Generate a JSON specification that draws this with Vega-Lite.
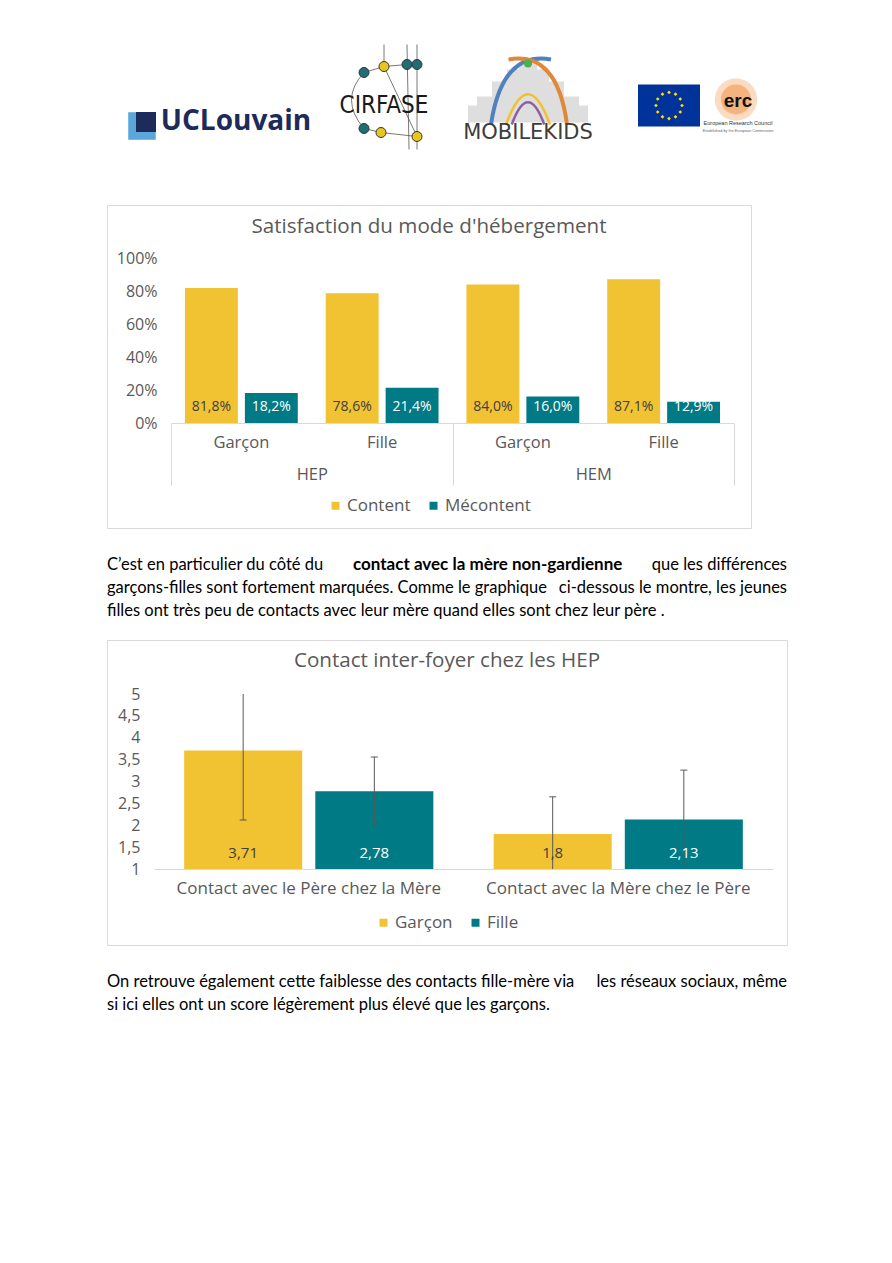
{
  "$schema": "https://vega.github.io/schema/vega-lite/v6.json",
  "background": "white",
  "padding": {"left": 106, "top": 40, "right": 0, "bottom": 0},
  "spacing": 0,
  "resolve": {"scale": {"color": "independent", "xOffset": "independent"}, "legend": {"color": "independent"}},
  "config": {
    "font": "Open Sans",
    "view": {"stroke": null},
    "locale": {"number": {"decimal": ",", "thousands": " ", "grouping": [3], "currency": ["", " €"]}},
    "legend": {"layout": {"bottom": {"anchor": "middle"}}},
    "axis": {"labelFont": "Open Sans", "labelColor": "#595959", "labelFontSize": 16, "grid": false}
  },
  "vconcat": [
    {
      "spacing": 0,
      "hconcat": [
        {
          "width": 224, "height": 164,
          "data": {"values": [{"logo": "UCLouvain"}]},
          "layer": [
            {"mark": {"type": "point", "shape": "square", "size": 760, "filled": true, "opacity": 1, "color": "#5aa7dc", "xOffset": -77, "yOffset": 4}, "encoding": {}},
            {"mark": {"type": "point", "shape": "square", "size": 400, "filled": true, "opacity": 1, "color": "#1c2b5a", "xOffset": -73, "yOffset": 0}, "encoding": {}},
            {"mark": {"type": "text", "text": "UCLouvain", "font": "Open Sans", "fontWeight": "bold", "fontSize": 28, "color": "#1c2b5a", "dx": 17, "dy": 0, "baseline": "middle"}, "encoding": {}}
          ]
        },
        {
          "width": 106, "height": 164,
          "data": {"values": [{"logo": "CIRFASE"}]},
          "layer": [
            {"mark": {"type": "point", "shape": "M-0.333,-0.45Q-0.75,0 -0.333,0.483M-0.333,-0.45L0,-0.55L0.383,-0.583M-0.333,0.483L-0.05,0.55L0.55,0.617M0.383,-0.917L0.417,0.833M0,-0.917L0,-0.55L0.55,0.617M0.55,-0.917L0.55,0.833", "size": 14400, "filled": false, "opacity": 1, "stroke": "#555555", "strokeWidth": 0.8, "yOffset": -22.5}, "encoding": {}},
            {"mark": {"type": "text", "text": "CIRFASE", "font": "'Liberation Sans Narrow', 'DejaVu Sans Condensed', 'Liberation Sans'", "fontSize": 24, "color": "#1a1a1a", "dy": -16, "baseline": "middle"}, "encoding": {}},
            {"mark": {"type": "point", "shape": "circle", "size": 100, "filled": true, "opacity": 1, "color": "#1f6e74", "stroke": "#333333", "strokeWidth": 1, "xOffset": -20, "yOffset": -49.5}, "encoding": {}},
            {"mark": {"type": "point", "shape": "circle", "size": 100, "filled": true, "opacity": 1, "color": "#e8c520", "stroke": "#333333", "strokeWidth": 1, "xOffset": 0, "yOffset": -55.5}, "encoding": {}},
            {"mark": {"type": "point", "shape": "circle", "size": 100, "filled": true, "opacity": 1, "color": "#1f6e74", "stroke": "#333333", "strokeWidth": 1, "xOffset": 23, "yOffset": -57.5}, "encoding": {}},
            {"mark": {"type": "point", "shape": "circle", "size": 100, "filled": true, "opacity": 1, "color": "#1f6e74", "stroke": "#333333", "strokeWidth": 1, "xOffset": 33, "yOffset": -57.5}, "encoding": {}},
            {"mark": {"type": "point", "shape": "circle", "size": 100, "filled": true, "opacity": 1, "color": "#1f6e74", "stroke": "#333333", "strokeWidth": 1, "xOffset": -20, "yOffset": 6.5}, "encoding": {}},
            {"mark": {"type": "point", "shape": "circle", "size": 100, "filled": true, "opacity": 1, "color": "#e8c520", "stroke": "#333333", "strokeWidth": 1, "xOffset": -3, "yOffset": 10.5}, "encoding": {}},
            {"mark": {"type": "point", "shape": "circle", "size": 100, "filled": true, "opacity": 1, "color": "#e8c520", "stroke": "#333333", "strokeWidth": 1, "xOffset": 33, "yOffset": 14.5}, "encoding": {}}
          ]
        },
        {
          "width": 182, "height": 164,
          "data": {"values": [{"logo": "MOBILEKIDS"}]},
          "layer": [
            {"mark": {"type": "point", "shape": "M-1,0.385L-1,0.1L-0.85,0.1L-0.85,-0.05L-0.6,-0.05L-0.6,-0.3L-0.35,-0.3L-0.35,-0.5L-0.15,-0.5L-0.15,-0.6L0.15,-0.6L0.15,-0.5L0.35,-0.5L0.35,-0.3L0.6,-0.3L0.6,-0.05L0.85,-0.05L0.85,0.1L1,0.1L1,0.385Z", "size": 14400, "filled": true, "opacity": 1, "color": "#dedede", "yOffset": -22.5}, "encoding": {}},
            {"mark": {"type": "point", "shape": "M-0.25,0.385Q0,-0.3 0.25,0.385", "size": 16900, "filled": false, "opacity": 1, "stroke": "#8e5ea2", "strokeWidth": 2.5, "yOffset": -22.5}, "encoding": {}},
            {"mark": {"type": "point", "shape": "M-0.338,0.385Q0,-0.55 0.338,0.385", "size": 16900, "filled": false, "opacity": 1, "stroke": "#f2c12e", "strokeWidth": 2.5, "yOffset": -22.5}, "encoding": {}},
            {"mark": {"type": "point", "shape": "M-0.569,0.385Q-0.4,-0.75 0.354,-0.615", "size": 16900, "filled": false, "opacity": 1, "stroke": "#4f81bd", "strokeWidth": 4, "yOffset": -22.5}, "encoding": {}},
            {"mark": {"type": "point", "shape": "M0.6,0.385Q0.45,-0.75 -0.3,-0.615", "size": 16900, "filled": false, "opacity": 1, "stroke": "#e0883a", "strokeWidth": 4, "yOffset": -22.5}, "encoding": {}},
            {"mark": {"type": "point", "shape": "circle", "size": 64, "filled": true, "opacity": 1, "color": "#4caf50", "yOffset": -58.5}, "encoding": {}},
            {"mark": {"type": "text", "text": "MOBILEKIDS", "font": "DejaVu Sans", "fontSize": 21, "color": "#3d3d3d", "dy": 10.5, "baseline": "middle"}, "encoding": {}}
          ]
        },
        {
          "width": 168, "height": 164,
          "data": {"values": [{"logo": "EU ERC"}]},
          "layer": [
            {"mark": {"type": "point", "shape": "M-1,-0.677L1,-0.677L1,0.677L-1,0.677Z", "size": 3844, "filled": true, "opacity": 1, "color": "#003399", "xOffset": -34, "yOffset": -16.5}, "encoding": {}},
            {"mark": {"type": "point", "shape": "M0,-0.48L0.06,-0.42L0,-0.36L-0.06,-0.42ZM0.21,-0.424L0.27,-0.364L0.21,-0.304L0.15,-0.364ZM0.364,-0.27L0.424,-0.21L0.364,-0.15L0.304,-0.21ZM0.42,-0.06L0.48,0L0.42,0.06L0.36,0ZM0.364,0.15L0.424,0.21L0.364,0.27L0.304,0.21ZM0.21,0.304L0.27,0.364L0.21,0.424L0.15,0.364ZM0,0.36L0.06,0.42L0,0.48L-0.06,0.42ZM-0.21,0.304L-0.15,0.364L-0.21,0.424L-0.27,0.364ZM-0.364,0.15L-0.304,0.21L-0.364,0.27L-0.424,0.21ZM-0.42,-0.06L-0.36,0L-0.42,0.06L-0.48,0ZM-0.364,-0.27L-0.304,-0.21L-0.364,-0.15L-0.424,-0.21ZM-0.21,-0.424L-0.15,-0.364L-0.21,-0.304L-0.27,-0.364Z", "size": 3844, "filled": true, "opacity": 1, "color": "#ffdd00", "xOffset": -34, "yOffset": -16.5}, "encoding": {}},
            {"mark": {"type": "point", "shape": "circle", "size": 1800, "filled": true, "opacity": 0.35, "color": "#f39c50", "xOffset": 33, "yOffset": -22.5}, "encoding": {}},
            {"mark": {"type": "point", "shape": "circle", "size": 900, "filled": true, "opacity": 0.5, "color": "#ef8a3a", "xOffset": 33, "yOffset": -22.5}, "encoding": {}},
            {"mark": {"type": "text", "text": "erc", "font": "Liberation Sans", "fontWeight": "bold", "fontSize": 19, "color": "#111111", "dx": 35, "dy": -21, "baseline": "middle"}, "encoding": {}},
            {"mark": {"type": "text", "text": "European Research Council", "font": "Liberation Sans", "fontSize": 5.5, "color": "#333333", "dx": 35, "dy": 0.5, "baseline": "middle"}, "encoding": {}},
            {"mark": {"type": "text", "text": "Established by the European Commission", "font": "Liberation Sans", "fontSize": 3.8, "color": "#666666", "dx": 35, "dy": 9, "baseline": "middle"}, "encoding": {}}
          ]
        }
      ]
    },
    {
      "width": 644, "height": 323,
      "view": {"stroke": "#d9d9d9", "strokeWidth": 1},
      "title": {"text": "Satisfaction du mode d'hébergement", "offset": -33, "dy": 20, "baseline": "bottom", "anchor": "middle", "font": "Open Sans", "fontSize": 20.6, "fontWeight": "normal", "color": "#595959"},
      "data": {"values": [
        {"hebergement": "HEP", "sexe": "Garçon", "categorie": "HEP-Garçon", "satisfaction": "Content", "part": 0.818},
        {"hebergement": "HEP", "sexe": "Garçon", "categorie": "HEP-Garçon", "satisfaction": "Mécontent", "part": 0.182},
        {"hebergement": "HEP", "sexe": "Fille", "categorie": "HEP-Fille", "satisfaction": "Content", "part": 0.786},
        {"hebergement": "HEP", "sexe": "Fille", "categorie": "HEP-Fille", "satisfaction": "Mécontent", "part": 0.214},
        {"hebergement": "HEM", "sexe": "Garçon", "categorie": "HEM-Garçon", "satisfaction": "Content", "part": 0.840},
        {"hebergement": "HEM", "sexe": "Garçon", "categorie": "HEM-Garçon", "satisfaction": "Mécontent", "part": 0.160},
        {"hebergement": "HEM", "sexe": "Fille", "categorie": "HEM-Fille", "satisfaction": "Content", "part": 0.871},
        {"hebergement": "HEM", "sexe": "Fille", "categorie": "HEM-Fille", "satisfaction": "Mécontent", "part": 0.129}
      ]},
      "layer": [
        {
          "encoding": {
            "x": {"field": "categorie", "type": "nominal", "sort": ["HEP-Garçon", "HEP-Fille", "HEM-Garçon", "HEM-Fille"],
                  "scale": {"range": [64, 627], "paddingInner": 0, "paddingOuter": 0},
                  "axis": {"orient": "bottom", "offset": -105, "title": null, "ticks": false, "domainColor": "#d9d9d9", "labelExpr": "split(datum.label, '-')[1]", "labelPadding": 11, "labelAngle": 0, "labelFontSize": 16.5}},
            "xOffset": {"field": "satisfaction", "type": "nominal", "sort": ["Content", "Mécontent"], "scale": {"domain": ["Content", "Mécontent"], "paddingInner": 0.117, "paddingOuter": 0.233}},
            "y": {"field": "part", "type": "quantitative", "scale": {"domain": [0, 1], "range": [218, 53], "nice": false},
                  "axis": {"title": null, "offset": -64, "values": [0, 0.2, 0.4, 0.6, 0.8, 1], "format": ".0%", "ticks": false, "domain": false, "labelPadding": 14, "labelFontSize": 16, "labelOverlap": false}}
          },
          "layer": [
            {
              "mark": {"type": "bar"},
              "encoding": {
                "color": {"field": "satisfaction", "type": "nominal", "scale": {"domain": ["Content", "Mécontent"], "range": ["#F1C232", "#007A84"]},
                          "legend": {"title": null, "orient": "bottom", "direction": "horizontal", "offset": -31, "symbolType": "square", "symbolSize": 64, "labelFont": "Open Sans", "labelFontSize": 17, "labelColor": "#595959", "columnPadding": 14, "labelOffset": 3}}
              }
            },
            {
              "mark": {"type": "text", "baseline": "middle", "dy": -16, "fontSize": 14, "font": "Open Sans"},
              "encoding": {
                "y": {"datum": 0, "type": "quantitative", "scale": {"domain": [0, 1], "range": [218, 53], "nice": false},
                      "axis": {"title": null, "offset": -64, "values": [0, 0.2, 0.4, 0.6, 0.8, 1], "format": ".0%", "ticks": false, "domain": false, "labelPadding": 14, "labelFontSize": 16, "labelOverlap": false}},
                "text": {"field": "part", "type": "quantitative", "format": ".1%"},
                "color": {"condition": {"test": "datum.satisfaction === 'Content'", "value": "#404040"}, "value": "white"}
              }
            }
          ]
        },
        {
          "mark": {"type": "text"},
          "encoding": {
            "x": {"field": "hebergement", "type": "nominal", "sort": ["HEP", "HEM"],
                  "scale": {"range": [64, 627], "paddingInner": 0, "paddingOuter": 0},
                  "axis": {"orient": "bottom", "offset": -105, "title": null, "domain": false, "ticks": true, "tickBand": "extent", "tickSize": 62, "tickColor": "#d9d9d9", "labelPadding": -19, "labelAngle": 0, "labelFontSize": 16.5}}
          }
        }
      ],
      "resolve": {"scale": {"x": "independent"}}
    },
    {
      "width": 680, "height": 110,
      "data": {"values": [
        {"ligne": 1, "partie": "gauche", "texte": "C’est en particulier du côté du"},
        {"ligne": 1, "partie": "gras", "texte": "contact avec la mère non-gardienne"},
        {"ligne": 1, "partie": "droite", "texte": "que les différences"},
        {"ligne": 2, "partie": "gauche", "texte": "garçons-filles sont fortement marquées. Comme le graphique"},
        {"ligne": 2, "partie": "droite", "texte": "ci-dessous le montre, les jeunes"},
        {"ligne": 3, "partie": "gauche", "texte": "filles ont très peu de contacts avec leur mère quand elles sont chez leur père ."}
      ]},
      "encoding": {
        "y": {"field": "ligne", "type": "ordinal", "scale": {"type": "point", "range": [36, 82], "padding": 0}, "axis": null},
        "text": {"field": "texte", "type": "nominal"}
      },
      "layer": [
        {"transform": [{"filter": "datum.partie === 'gauche'"}], "mark": {"type": "text", "align": "left", "baseline": "middle", "font": "Lato", "fontSize": 16.5, "color": "#000000"},
         "encoding": {"x": {"datum": "gauche", "type": "nominal", "scale": {"type": "point", "domain": ["gauche", "droite"], "padding": 0}, "axis": null}}},
        {"transform": [{"filter": "datum.partie === 'gras'"}], "mark": {"type": "text", "align": "left", "baseline": "middle", "font": "Lato", "fontWeight": "bold", "fontSize": 17, "color": "#000000", "dx": 246},
         "encoding": {"x": {"datum": "gauche", "type": "nominal", "scale": {"type": "point", "domain": ["gauche", "droite"], "padding": 0}, "axis": null}}},
        {"transform": [{"filter": "datum.partie === 'droite'"}], "mark": {"type": "text", "align": "right", "baseline": "middle", "font": "Lato", "fontSize": 16.5, "color": "#000000"},
         "encoding": {"x": {"datum": "droite", "type": "nominal", "scale": {"type": "point", "domain": ["gauche", "droite"], "padding": 0}, "axis": null}}}
      ]
    },
    {
      "width": 680, "height": 305,
      "view": {"stroke": "#d9d9d9", "strokeWidth": 1},
      "title": {"text": "Contact inter-foyer chez les HEP", "offset": -33, "dy": 19, "baseline": "bottom", "anchor": "middle", "font": "Open Sans", "fontSize": 20.6, "fontWeight": "normal", "color": "#595959"},
      "data": {"values": [
        {"contact": "Contact avec le Père chez la Mère", "sexe": "Garçon", "moyenne": 3.71, "bas": 2.12, "haut": 5.30},
        {"contact": "Contact avec le Père chez la Mère", "sexe": "Fille", "moyenne": 2.78, "bas": 2.00, "haut": 3.56},
        {"contact": "Contact avec la Mère chez le Père", "sexe": "Garçon", "moyenne": 1.8, "bas": 0.95, "haut": 2.65},
        {"contact": "Contact avec la Mère chez le Père", "sexe": "Fille", "moyenne": 2.13, "bas": 1.00, "haut": 3.26}
      ]},
      "encoding": {
        "x": {"field": "contact", "type": "nominal", "sort": ["Contact avec le Père chez la Mère", "Contact avec la Mère chez le Père"],
              "scale": {"range": [47, 666], "paddingInner": 0, "paddingOuter": 0},
              "axis": {"orient": "bottom", "offset": -76, "title": null, "ticks": false, "domainColor": "#d9d9d9", "labelPadding": 11, "labelLimit": 400, "labelAngle": 0, "labelFontSize": 17}},
        "xOffset": {"field": "sexe", "type": "nominal", "sort": ["Garçon", "Fille"], "scale": {"domain": ["Garçon", "Fille"], "paddingInner": 0.1, "paddingOuter": 0.23}}
      },
      "layer": [
        {
          "mark": {"type": "bar"},
          "encoding": {
            "y": {"field": "moyenne", "type": "quantitative", "scale": {"domain": [1, 5], "range": [229, 54], "clamp": true, "nice": false, "zero": false},
                  "axis": {"title": null, "offset": -47, "values": [1, 1.5, 2, 2.5, 3, 3.5, 4, 4.5, 5], "format": ".1~f", "ticks": false, "domain": false, "labelPadding": 14, "labelFontSize": 16, "labelOverlap": false}},
            "y2": {"datum": 1},
            "color": {"field": "sexe", "type": "nominal", "scale": {"domain": ["Garçon", "Fille"], "range": ["#F1C232", "#007A84"]},
                      "legend": {"title": null, "orient": "bottom", "direction": "horizontal", "offset": -31, "symbolType": "square", "symbolSize": 64, "labelFont": "Open Sans", "labelFontSize": 17, "labelColor": "#595959", "columnPadding": 14, "labelOffset": 3}}
          }
        },
        {
          "mark": {"type": "rule", "color": "#595959", "strokeWidth": 1},
          "encoding": {
            "y": {"field": "bas", "type": "quantitative", "scale": {"domain": [1, 5], "range": [229, 54], "clamp": true, "nice": false, "zero": false},
                  "axis": {"title": null, "offset": -47, "values": [1, 1.5, 2, 2.5, 3, 3.5, 4, 4.5, 5], "format": ".1~f", "ticks": false, "domain": false, "labelPadding": 14, "labelFontSize": 16, "labelOverlap": false}},
            "y2": {"field": "haut"}
          }
        },
        {
          "transform": [{"filter": "datum.haut <= 5"}],
          "mark": {"type": "tick", "color": "#595959", "thickness": 1, "size": 7, "opacity": 1},
          "encoding": {
            "y": {"field": "haut", "type": "quantitative", "scale": {"domain": [1, 5], "range": [229, 54], "clamp": true, "nice": false, "zero": false},
                  "axis": {"title": null, "offset": -47, "values": [1, 1.5, 2, 2.5, 3, 3.5, 4, 4.5, 5], "format": ".1~f", "ticks": false, "domain": false, "labelPadding": 14, "labelFontSize": 16, "labelOverlap": false}}
          }
        },
        {
          "transform": [{"filter": "datum.bas > 1.001"}],
          "mark": {"type": "tick", "color": "#595959", "thickness": 1, "size": 7, "opacity": 1},
          "encoding": {
            "y": {"field": "bas", "type": "quantitative", "scale": {"domain": [1, 5], "range": [229, 54], "clamp": true, "nice": false, "zero": false},
                  "axis": {"title": null, "offset": -47, "values": [1, 1.5, 2, 2.5, 3, 3.5, 4, 4.5, 5], "format": ".1~f", "ticks": false, "domain": false, "labelPadding": 14, "labelFontSize": 16, "labelOverlap": false}}
          }
        },
        {
          "mark": {"type": "text", "baseline": "middle", "dy": -16, "fontSize": 15, "font": "Open Sans"},
          "encoding": {
            "y": {"datum": 1, "type": "quantitative", "scale": {"domain": [1, 5], "range": [229, 54], "clamp": true, "nice": false, "zero": false},
                  "axis": {"title": null, "offset": -47, "values": [1, 1.5, 2, 2.5, 3, 3.5, 4, 4.5, 5], "format": ".1~f", "ticks": false, "domain": false, "labelPadding": 14, "labelFontSize": 16, "labelOverlap": false}},
            "text": {"field": "moyenne", "type": "quantitative", "format": ".2~f"},
            "color": {"condition": {"test": "datum.sexe === 'Garçon'", "value": "#404040"}, "value": "white"}
          }
        }
      ]
    },
    {
      "width": 680, "height": 318,
      "data": {"values": [
        {"ligne": 1, "partie": "gauche", "texte": "On retrouve également cette faiblesse des contacts fille-mère via"},
        {"ligne": 1, "partie": "droite", "texte": "les réseaux sociaux, même"},
        {"ligne": 2, "partie": "gauche", "texte": "si ici elles ont un score légèrement plus élevé que les garçons."}
      ]},
      "encoding": {
        "y": {"field": "ligne", "type": "ordinal", "scale": {"type": "point", "range": [36, 59], "padding": 0}, "axis": null},
        "text": {"field": "texte", "type": "nominal"}
      },
      "layer": [
        {"transform": [{"filter": "datum.partie === 'gauche'"}], "mark": {"type": "text", "align": "left", "baseline": "middle", "font": "Lato", "fontSize": 16.5, "color": "#000000"},
         "encoding": {"x": {"datum": "gauche", "type": "nominal", "scale": {"type": "point", "domain": ["gauche", "droite"], "padding": 0}, "axis": null}}},
        {"transform": [{"filter": "datum.partie === 'droite'"}], "mark": {"type": "text", "align": "right", "baseline": "middle", "font": "Lato", "fontSize": 16.5, "color": "#000000"},
         "encoding": {"x": {"datum": "droite", "type": "nominal", "scale": {"type": "point", "domain": ["gauche", "droite"], "padding": 0}, "axis": null}}}
      ]
    }
  ]
}
